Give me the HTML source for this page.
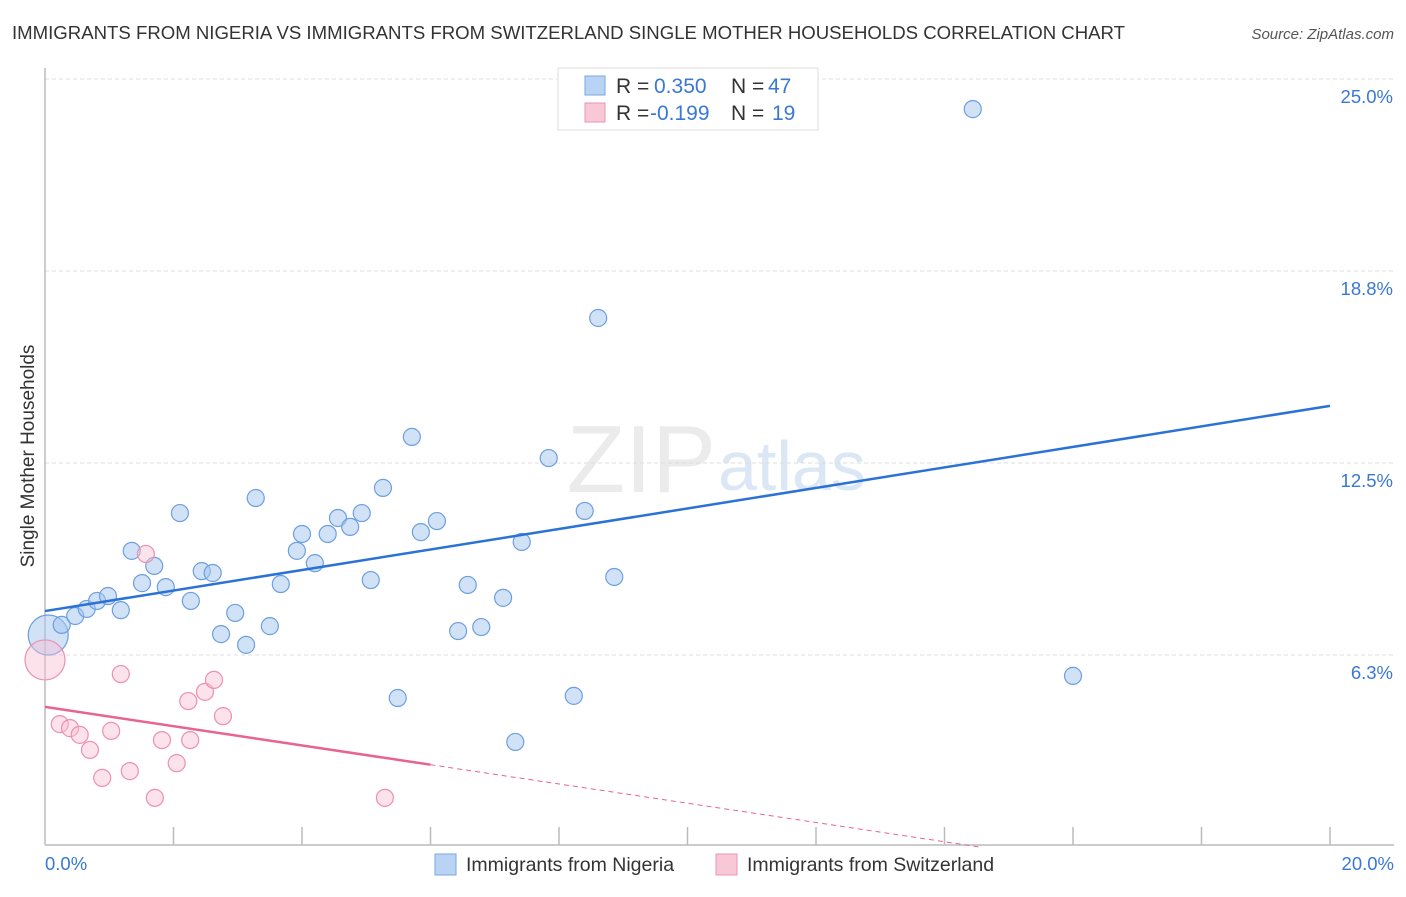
<!DOCTYPE html>
<html><head><meta charset="utf-8"><style>
body{margin:0;background:#fff;font-family:"Liberation Sans",sans-serif;}
svg text{font-family:"Liberation Sans",sans-serif;}
</style></head><body>
<svg id="chart" width="1406" height="892" xmlns="http://www.w3.org/2000/svg">
<text x="12" y="39" font-size="18" fill="#333" textLength="1113" lengthAdjust="spacingAndGlyphs">IMMIGRANTS FROM NIGERIA VS IMMIGRANTS FROM SWITZERLAND SINGLE MOTHER HOUSEHOLDS CORRELATION CHART</text>
<text x="1394" y="39" font-size="15" fill="#555" text-anchor="end" font-style="italic">Source: ZipAtlas.com</text>
<text x="716" y="492" font-size="96" fill="#ebebeb" text-anchor="end" font-family="Liberation Serif">ZIP</text>
<text x="718" y="490" font-size="70" fill="#dbe7f5">atlas</text>
<g id="grid"></g>
<g id="axes"></g>
<g id="marks"></g>
<text transform="translate(34,456) rotate(-90)" font-size="19" fill="#333" text-anchor="middle">Single Mother Households</text>
<g>
<rect x="558" y="68" width="260" height="62" fill="#fff" stroke="#ddd"/>
<rect x="585" y="76" width="20" height="19" fill="#b9d3f4" stroke="#7aa7e2"/>
<text x="616" y="93" font-size="21" fill="#333">R = </text><text x="654" y="93" font-size="21" fill="#3a78d4">0.350</text>
<text x="731" y="93" font-size="21" fill="#333">N = </text><text x="768" y="93" font-size="21" fill="#3a78d4">47</text>
<rect x="585" y="103" width="20" height="19" fill="#f9c8d7" stroke="#ec93b0"/>
<text x="616" y="120" font-size="21" fill="#333">R = </text><text x="650" y="120" font-size="21" fill="#3a78d4">-0.199</text>
<text x="731" y="120" font-size="21" fill="#333">N = </text><text x="772" y="120" font-size="21" fill="#3a78d4">19</text>
</g>
<g>
<rect x="435" y="854" width="21" height="21" fill="#b9d3f4" stroke="#7aa7e2"/>
<text x="466" y="871" font-size="19.5" fill="#333">Immigrants from Nigeria</text>
<rect x="716" y="854" width="21" height="21" fill="#f9c8d7" stroke="#ec93b0"/>
<text x="747" y="871" font-size="19.5" fill="#333">Immigrants from Switzerland</text>
</g>
</svg>
<script>
const yTicks=[6.25,12.5,18.75,25];
const yTickLabels=["6.3%","12.5%","18.8%","25.0%"];
const xTickLabels=["0.0%","20.0%"];
const blueX=[0.05,0.26,0.47,0.65,0.81,0.98,1.18,1.35,1.51,1.70,1.88,2.10,2.27,2.44,2.61,2.74,2.96,3.13,3.28,3.50,3.67,3.92,4.00,4.20,4.40,4.56,4.75,4.93,5.07,5.26,5.49,5.71,5.85,6.10,6.43,6.58,6.79,7.13,7.32,7.42,7.84,8.23,8.40,8.61,8.86,14.44,16.00];
const blueY=[6.90,7.23,7.52,7.75,8.01,8.17,7.71,9.64,8.59,9.15,8.46,10.87,8.01,8.98,8.92,6.93,7.62,6.58,11.36,7.19,8.56,9.64,10.19,9.24,10.19,10.71,10.42,10.87,8.69,11.69,4.85,13.35,10.25,10.61,7.03,8.53,7.16,8.11,3.42,9.93,12.66,4.92,10.94,17.22,8.79,24.02,5.57];
const pinkX=[0,0.23,0.39,0.54,0.70,0.89,1.03,1.18,1.32,1.57,1.71,1.82,2.05,2.26,2.23,2.49,2.63,2.77,5.29];
const pinkY=[6.09,4.00,3.87,3.65,3.16,2.25,3.78,5.63,2.47,9.54,1.60,3.48,2.73,3.48,4.75,5.05,5.44,4.26,1.60];
const blueLine=[7.68,14.36];
const pinkLine=[4.56,-1.71];
const NS="http://www.w3.org/2000/svg";
const X=v=>45+v*64.25, Y=v=>847-v*30.72;
function mk(tag,attrs,parent){const e=document.createElementNS(NS,tag);for(const k in attrs)e.setAttribute(k,attrs[k]);document.getElementById(parent).appendChild(e);return e;}
yTicks.forEach((t,i)=>{
 const l=mk('line',{x1:45,x2:1394,y1:Y(t),y2:Y(t),stroke:'#ddd','stroke-dasharray':'4,3'},'grid');
 
 
 const tx=mk('text',{x:1393,y:Y(t)+24,'font-size':18.5,fill:'#3a78d4','text-anchor':'end'},'grid');
 tx.textContent=yTickLabels[i];
 
 
});
let a=mk('line',{x1:45,x2:45,y1:68,y2:845,stroke:'#bbb','stroke-width':1.5},'axes');


a=mk('line',{x1:45,x2:1394,y1:845,y2:845,stroke:'#bbb','stroke-width':1.5},'axes');


for(let i=1;i<=10;i++){
 const t=mk('line',{x1:X(i*2),x2:X(i*2),y1:827,y2:845,stroke:'#bbb','stroke-width':1.5},'axes');
 
 
}
[[0,'start',45],[20,'end',1394]].forEach((d,i)=>{
 const t=mk('text',{x:d[2],y:870,'font-size':18.5,fill:'#3a78d4','text-anchor':d[1]},'axes');
 t.textContent=xTickLabels[i];
 
 
});
blueX.forEach((x,i)=>{
 const c=mk('circle',{cx:X(x),cy:Y(blueY[i]),r:i==0?20:8.5,fill:'rgba(164,198,240,0.5)',stroke:'#6c9fe0','stroke-width':1.2},'marks');
 
 
});
pinkX.forEach((x,i)=>{
 const c=mk('circle',{cx:X(x),cy:Y(pinkY[i]),r:i==0?20:8.5,fill:'rgba(248,190,210,0.45)',stroke:'#ec90ae','stroke-width':1.2},'marks');
 
 
});
let ln=mk('line',{x1:X(0),y1:Y(blueLine[0]),x2:X(20),y2:Y(blueLine[1]),stroke:'#2a72d6','stroke-width':2.5},'marks');


const pAt=x=>pinkLine[0]+(pinkLine[1]-pinkLine[0])*x/20;
ln=mk('line',{x1:X(0),y1:Y(pAt(0)),x2:X(6),y2:Y(pAt(6)),stroke:'#e8648f','stroke-width':2.5},'marks');


const x0=-pinkLine[0]/((pinkLine[1]-pinkLine[0])/20);
ln=mk('line',{x1:X(6),y1:Y(pAt(6)),x2:X(x0),y2:Y(0),stroke:'#e8648f','stroke-width':1,'stroke-dasharray':'5,4'},'marks');


</script>
</body></html>
